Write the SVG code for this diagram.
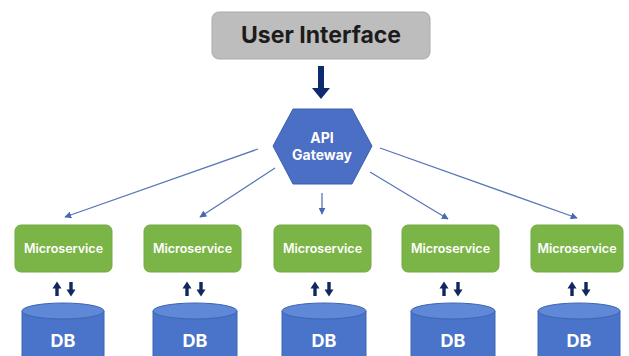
<svg xmlns="http://www.w3.org/2000/svg" width="629" height="356" viewBox="0 0 629 356">
<defs>
<style>
.ui{fill:#bdbdbd;stroke:#aaaaaa;stroke-width:1}
.uit{font-family:Inter,"Liberation Sans",sans-serif;font-weight:700;font-size:23px;fill:#1c1c1c;text-anchor:middle}
.hex{fill:#4b6fc4;stroke:#3d5fb0;stroke-width:1}
.ht{font-family:Inter,"Liberation Sans",sans-serif;font-weight:700;font-size:14px;fill:#ffffff;text-anchor:middle}
.ms{fill:#7bb548;stroke:#72ab42;stroke-width:1}
.mst{font-family:Inter,"Liberation Sans",sans-serif;font-weight:600;font-size:12.5px;fill:#ffffff;text-anchor:middle}
.dbb{fill:#4a74c9;stroke:#3f64b5;stroke-width:1}
.dbt{fill:#5f88d6;stroke:#3f64b5;stroke-width:1}
.dbx{font-family:Inter,"Liberation Sans",sans-serif;font-weight:700;font-size:18px;fill:#ffffff;text-anchor:middle}
.con{stroke:#5876b9;stroke-width:1.3;fill:none;marker-end:url(#ah)}
.bi{fill:#10285e}
</style>
<marker id="ah" viewBox="0 0 10 10" refX="9" refY="5" markerWidth="7" markerHeight="7" orient="auto" markerUnits="userSpaceOnUse">
<path d="M0,0 L10,5 L0,10 z" fill="#4a68b0"/>
</marker>
<g id="updown">
<path class="bi" d="M-7,-7.5 L-2.5,-0.5 L-5.3,-0.5 L-5.3,7 L-8.7,7 L-8.7,-0.5 L-11.5,-0.5 z"/>
<path class="bi" d="M7,7.5 L2.5,0.5 L5.3,0.5 L5.3,-7 L8.7,-7 L8.7,0.5 L11.5,0.5 z"/>
</g>
</defs>
<rect width="629" height="356" fill="#ffffff"/>

<g id="user-interface">
<rect class="ui" x="212" y="12" width="218" height="47" rx="7"/>
<text class="uit" x="321" y="43">User Interface</text>
</g>

<g id="api-gateway">
<polygon class="hex" points="273,146 293,109 352,109 372,146 352,184 293,184"/>
<text class="ht" x="322" y="143">API</text>
<text class="ht" x="322" y="160">Gateway</text>
</g>

<g id="microservice-1">
<rect class="ms" x="15" y="225" width="97" height="47" rx="6"/>
<text class="mst" x="63.5" y="253">Microservice</text>
</g>
<g id="microservice-2">
<rect class="ms" x="144" y="225" width="97" height="47" rx="6"/>
<text class="mst" x="192.5" y="253">Microservice</text>
</g>
<g id="microservice-3">
<rect class="ms" x="274" y="225" width="97" height="47" rx="6"/>
<text class="mst" x="322.5" y="253">Microservice</text>
</g>
<g id="microservice-4">
<rect class="ms" x="402" y="225" width="97" height="47" rx="6"/>
<text class="mst" x="450.5" y="253">Microservice</text>
</g>
<g id="microservice-5">
<rect class="ms" x="531" y="225" width="92" height="47" rx="6"/>
<text class="mst" x="577" y="253">Microservice</text>
</g>

<g id="db-1">
<path class="dbb" d="M22,311 L22,362 A41,8 0 0 0 104,362 L104,311"/>
<ellipse class="dbt" cx="63" cy="311" rx="41" ry="8"/>
<text class="dbx" x="63" y="347">DB</text>
</g>
<g id="db-2">
<path class="dbb" d="M153,311 L153,362 A42,8 0 0 0 237,362 L237,311"/>
<ellipse class="dbt" cx="195" cy="311" rx="42" ry="8"/>
<text class="dbx" x="195" y="347">DB</text>
</g>
<g id="db-3">
<path class="dbb" d="M282,311 L282,362 A42,8 0 0 0 366,362 L366,311"/>
<ellipse class="dbt" cx="324" cy="311" rx="42" ry="8"/>
<text class="dbx" x="324" y="347">DB</text>
</g>
<g id="db-4">
<path class="dbb" d="M411,311 L411,362 A42,8 0 0 0 495,362 L495,311"/>
<ellipse class="dbt" cx="453" cy="311" rx="42" ry="8"/>
<text class="dbx" x="453" y="347">DB</text>
</g>
<g id="db-5">
<path class="dbb" d="M538,311 L538,362 A41,8 0 0 0 620,362 L620,311"/>
<ellipse class="dbt" cx="579" cy="311" rx="41" ry="8"/>
<text class="dbx" x="579" y="347">DB</text>
</g>

<g id="connectors">
<path d="M318,66 L324,66 L324,88 L330,88 L321,99 L312,88 L318,88 z" fill="#0f2a6e"/>
<line class="con" x1="258" y1="149" x2="65" y2="217"/>
<line class="con" x1="275" y1="168" x2="200" y2="217"/>
<line class="con" x1="322" y1="193" x2="322" y2="214"/>
<line class="con" x1="370" y1="172" x2="448" y2="219"/>
<line class="con" x1="380" y1="148" x2="577" y2="218"/>
<use href="#updown" x="64" y="289"/>
<use href="#updown" x="194" y="289"/>
<use href="#updown" x="322" y="289"/>
<use href="#updown" x="451" y="289"/>
<use href="#updown" x="579" y="289"/>
</g>
</svg>
